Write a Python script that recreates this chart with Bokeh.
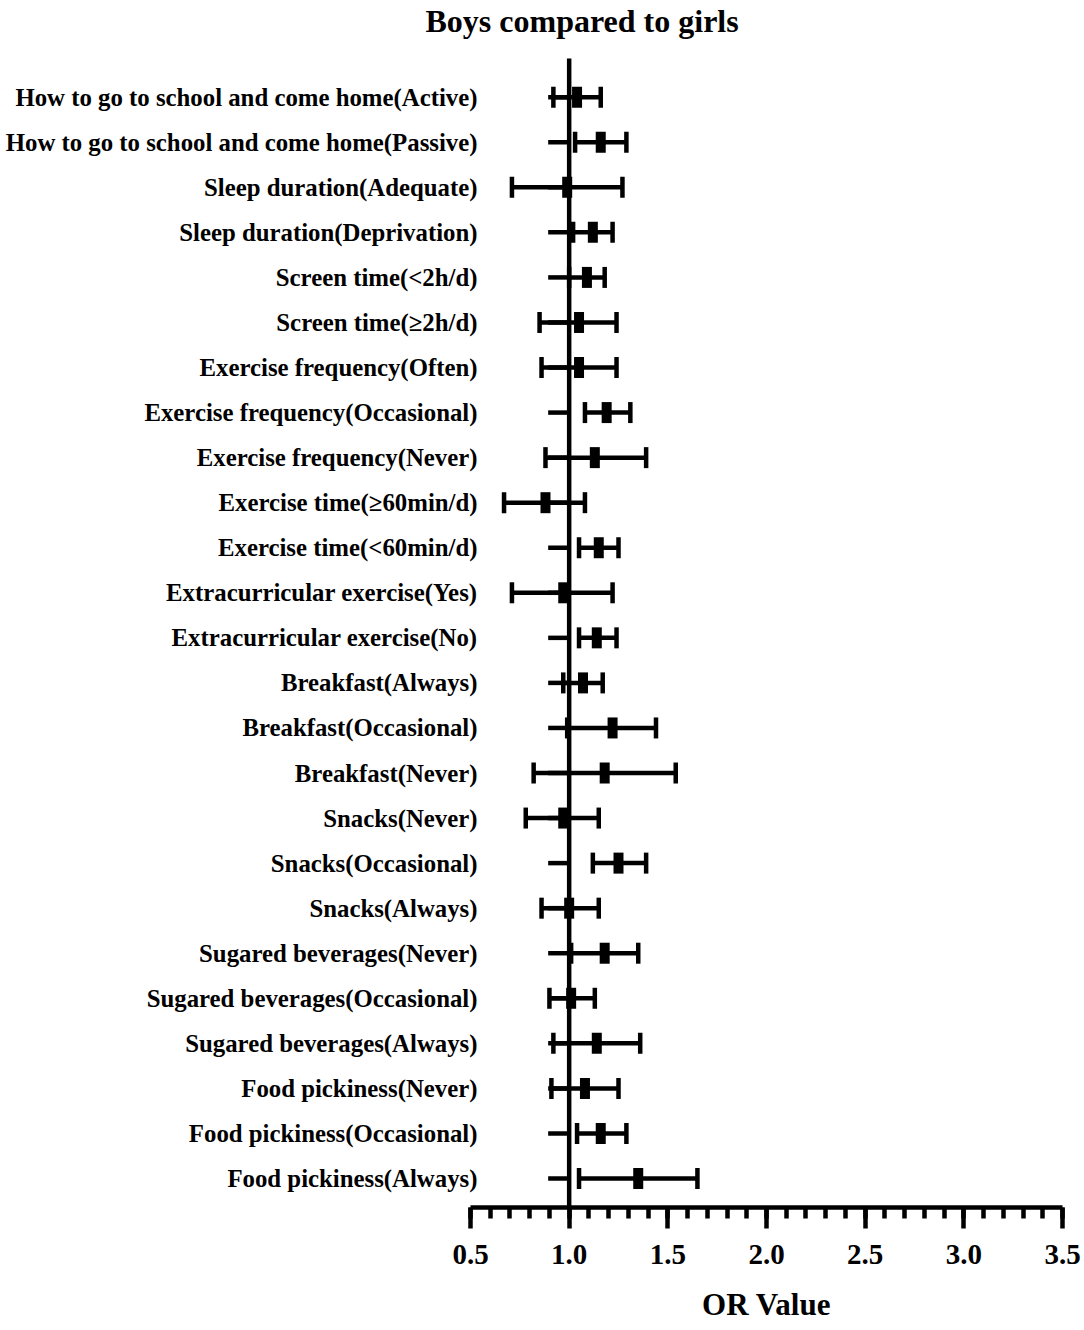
import math
from bokeh.plotting import figure
from bokeh.models import (Range1d, Whisker, TeeHead, ColumnDataSource,
                          FixedTicker, NumeralTickFormatter)
from bokeh.embed import file_html
from bokeh.resources import INLINE

title_text = "Boys compared to girls"
x_label = "OR Value"
ref_value = 1.0

labels = [
    "How to go to school and come home(Active)",
    "How to go to school and come home(Passive)",
    "Sleep duration(Adequate)",
    "Sleep duration(Deprivation)",
    "Screen time(<2h/d)",
    "Screen time(\u22652h/d)",
    "Exercise frequency(Often)",
    "Exercise frequency(Occasional)",
    "Exercise frequency(Never)",
    "Exercise time(\u226560min/d)",
    "Exercise time(<60min/d)",
    "Extracurricular exercise(Yes)",
    "Extracurricular exercise(No)",
    "Breakfast(Always)",
    "Breakfast(Occasional)",
    "Breakfast(Never)",
    "Snacks(Never)",
    "Snacks(Occasional)",
    "Snacks(Always)",
    "Sugared beverages(Never)",
    "Sugared beverages(Occasional)",
    "Sugared beverages(Always)",
    "Food pickiness(Never)",
    "Food pickiness(Occasional)",
    "Food pickiness(Always)",
]

or_values = [1.04, 1.16, 0.99, 1.12, 1.09, 1.05, 1.05, 1.19, 1.13, 0.88,
             1.15, 0.97, 1.14, 1.07, 1.22, 1.18, 0.97, 1.25, 1.00, 1.18,
             1.01, 1.14, 1.08, 1.16, 1.35]
ci_lower = [0.92, 1.03, 0.71, 1.02, 1.00, 0.85, 0.86, 1.08, 0.88, 0.67,
            1.05, 0.71, 1.05, 0.97, 0.99, 0.82, 0.78, 1.12, 0.86, 1.01,
            0.90, 0.92, 0.91, 1.04, 1.05]
ci_upper = [1.16, 1.29, 1.27, 1.22, 1.18, 1.24, 1.24, 1.31, 1.39, 1.08,
            1.25, 1.22, 1.24, 1.17, 1.44, 1.54, 1.15, 1.39, 1.15, 1.35,
            1.13, 1.36, 1.25, 1.29, 1.65]

x_ticks = [0.5, 1.0, 1.5, 2.0, 2.5, 3.0, 3.5]
x_minor_step = 0.1

FONT = "Liberation Serif"

n = len(labels)
ys = [n - i for i in range(n)]
src = ColumnDataSource(dict(y=ys, orv=or_values, lo=ci_lower, hi=ci_upper,
                            ref=[ref_value] * n))

# vertical layout (in row units): bottom pad, top of reference line, top of frame
y_bottom = 1 - 0.644
line_top = n + 0.859
y_top = n + 1.303

p = figure(width=1084, height=1330, output_backend="svg", toolbar_location=None,
           x_range=Range1d(x_ticks[0], x_ticks[-1]),
           y_range=Range1d(y_bottom, y_top),
           min_border_left=470, min_border_right=22,
           min_border_top=0, min_border_bottom=123)
p.outline_line_color = None
p.grid.visible = False
p.background_fill_color = "white"

# title
p.title.text = title_text
p.title.text_font = FONT
p.title.text_font_size = "32px"
p.title.text_font_style = "bold"
p.title.text_color = "black"
p.title.align = "left"
p.title.offset = -45
p.title.standoff = 0

# x axis
nminor = int(round((x_ticks[-1] - x_ticks[0]) / x_minor_step))
minor = [round(x_ticks[0] + k * x_minor_step, 2) for k in range(nminor + 1)]
xa = p.xaxis[0]
xa.ticker = FixedTicker(ticks=x_ticks, minor_ticks=minor)
xa.formatter = NumeralTickFormatter(format="0.0")
xa.axis_line_width = 4.5
xa.axis_line_color = "black"
xa.major_tick_line_width = 4.5
xa.major_tick_out = 21
xa.major_tick_in = 0
xa.minor_tick_line_width = 4.5
xa.minor_tick_out = 11
xa.minor_tick_in = 0
xa.major_label_text_font = FONT
xa.major_label_text_font_size = "29px"
xa.major_label_text_font_style = "bold"
xa.major_label_text_color = "black"
xa.major_label_standoff = 16
xa.axis_label = x_label
xa.axis_label_text_font = FONT
xa.axis_label_text_font_size = "31px"
xa.axis_label_text_font_style = "bold"
xa.axis_label_text_color = "black"
xa.axis_label_standoff = 20

# y axis: category labels
ya = p.yaxis[0]
ya.ticker = FixedTicker(ticks=ys)
ya.major_label_overrides = {y: lab for y, lab in zip(ys, labels)}
ya.axis_line_color = None
ya.major_tick_line_color = None
ya.minor_tick_line_color = None
ya.major_tick_out = 0
ya.major_tick_in = 0
ya.major_label_standoff = -7
ya.major_label_text_font = FONT
ya.major_label_text_font_size = "24.8px"
ya.major_label_text_font_style = "bold"
ya.major_label_text_color = "black"

# reference line at OR = 1
p.segment(x0=[ref_value], y0=[y_bottom], x1=[ref_value], y1=[line_top],
          line_color="black", line_width=4.5)
# small ticks left of the reference line
p.ray(x="ref", y="y", length=21, length_units="screen", angle=math.pi,
      line_color="black", line_width=4.5, source=src)

# error bars
p.add_layout(Whisker(source=src, base="y", lower="lo", upper="hi",
                     dimension="width", line_color="black", line_width=4.5,
                     upper_head=TeeHead(size=21, line_width=4.5, line_color="black"),
                     lower_head=TeeHead(size=21, line_width=4.5, line_color="black")))
# point estimates
p.rect(x="orv", y="y", width=10, height=21, width_units="screen",
       height_units="screen", fill_color="black", line_color=None, source=src)

open("out.html", "w").write(file_html(p, INLINE))
